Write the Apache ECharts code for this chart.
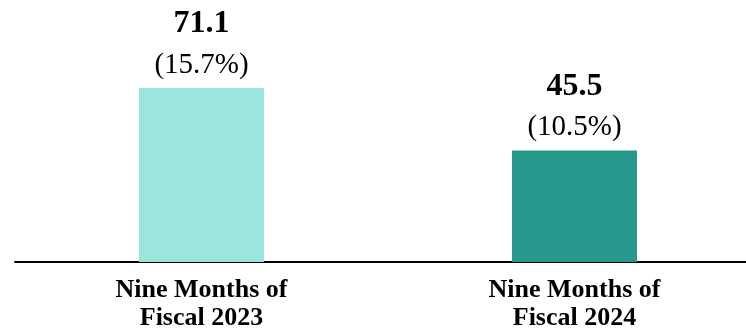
<!DOCTYPE html>
<html>
<head>
<meta charset="utf-8">
<script src="https://cdn.jsdelivr.net/npm/echarts@6/dist/echarts.min.js"></script>
<style>
  html, body { margin: 0; padding: 0; background: #fff; overflow: hidden; }
  #wrap { width: 746px; height: 330px; overflow: hidden; }
  #chart { width: 761px; height: 330px; }
</style>
</head>
<body>
<div id="wrap"><div id="chart"></div></div>
<script>
const categories = ['Nine Months of\nFiscal 2023', 'Nine Months of\nFiscal 2024']
const values = [71.1, 45.5]
const margins = ['15.7%', '10.5%']
const barColors = ['#9be6dc', '#26998c']

const FONT = "'Liberation Serif', 'Times New Roman', serif"

const chart = echarts.init(document.getElementById('chart'))
chart.setOption({
  animation: false,
  grid: { left: 15, top: 0, right: 0, bottom: 68, outerBoundsMode: 'none', containLabel: false },
  xAxis: {
    type: 'category',
    data: categories,
    axisLine: { lineStyle: { color: '#000', width: 2 } },
    axisTick: { show: false },
    axisLabel: {
      color: '#000',
      fontFamily: FONT,
      fontWeight: 'bold',
      fontSize: 26,
      lineHeight: 28,
      margin: 14
    }
  },
  yAxis: {
    type: 'value',
    min: 0,
    max: 107,
    show: false,
    splitLine: { show: false }
  },
  series: [{
    type: 'bar',
    barWidth: 125,
    data: values.map((v, i) => ({
      value: v,
      itemStyle: { color: barColors[i] },
      label: {
        show: true,
        position: 'top',
        distance: 4,
        formatter: () => '{a|' + v.toFixed(1) + '}\n{b|(' + margins[i] + ')}',
        rich: {
          a: { fontFamily: FONT, fontWeight: 'bold', fontSize: 32, lineHeight: 44, color: '#000' },
          b: { fontFamily: FONT, fontSize: 29, lineHeight: 38, color: '#000' }
        }
      }
    }))
  }]
})
</script>
</body>
</html>
